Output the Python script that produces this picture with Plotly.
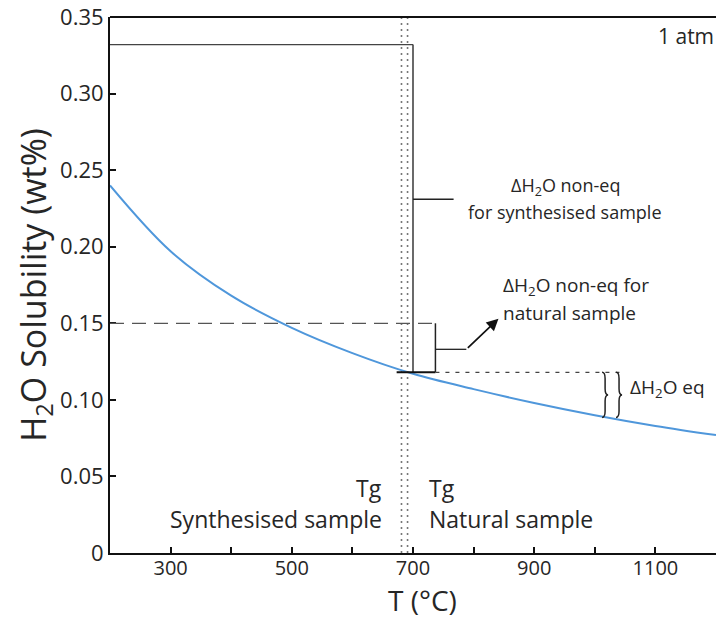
import plotly.graph_objects as go

# ---- data ----
temp_c = [200, 300, 400, 500, 600, 700, 800, 900, 1000, 1100, 1200]
solubility = [0.240, 0.197, 0.168, 0.147, 0.1305, 0.117, 0.107, 0.098, 0.090, 0.083, 0.077]

x_tick_vals = [300, 500, 700, 900, 1100]
x_tick_text = ["300", "500", "700", "900", "1100"]
y_tick_vals = [0, 0.05, 0.10, 0.15, 0.20, 0.25, 0.30, 0.35]
y_tick_text = ["0", "0.05", "0.10", "0.15", "0.20", "0.25", "0.30", "0.35"]

tg_synth = 681
tg_nat = 691
synth_water = 0.332
nat_water = 0.150
eq_water = 0.118
synth_bar_t = 700
nat_bar_t = 737
eq_end_t = 1041
eq_low = 0.0885
arrow_t = [788, 841]
arrow_w = [0.133, 0.153]

FONT = "Open Sans"
BLUE = "#4f97db"
TXT = "#262626"

fig = go.Figure()
fig.add_trace(go.Scatter(x=temp_c, y=solubility, mode="lines", line=dict(color=BLUE, width=2),
                         line_shape="spline", showlegend=False, hoverinfo="skip"))

shapes = []
# Tg dotted verticals
for t in (tg_synth, tg_nat):
    shapes.append(dict(type="line", x0=t, x1=t, y0=0, y1=0.35, xref="x", yref="y",
                       line=dict(color="#777", width=1.6, dash="2px,4px")))
# synthesised sample box
shapes.append(dict(type="line", x0=200, x1=synth_bar_t, y0=synth_water, y1=synth_water,
                   line=dict(color="#444", width=1.3)))
shapes.append(dict(type="line", x0=synth_bar_t, x1=synth_bar_t, y0=synth_water, y1=eq_water,
                   line=dict(color="#444", width=1.6)))
shapes.append(dict(type="line", x0=synth_bar_t, x1=767, y0=0.231, y1=0.231,
                   line=dict(color="#222", width=1.3)))
# natural sample dashed
shapes.append(dict(type="line", x0=200, x1=nat_bar_t, y0=nat_water, y1=nat_water,
                   line=dict(color="#555", width=1.3, dash="14px,8px")))
shapes.append(dict(type="line", x0=nat_bar_t, x1=nat_bar_t, y0=nat_water, y1=eq_water,
                   line=dict(color="#222", width=1.5)))
shapes.append(dict(type="line", x0=nat_bar_t, x1=arrow_t[0], y0=arrow_w[0], y1=arrow_w[0],
                   line=dict(color="#222", width=1.3)))
shapes.append(dict(type="line", x0=673, x1=nat_bar_t, y0=eq_water, y1=eq_water,
                   line=dict(color="#111", width=2)))
# equilibrium dashed
shapes.append(dict(type="line", x0=nat_bar_t, x1=eq_end_t, y0=eq_water, y1=eq_water,
                   line=dict(color="#444", width=1.2, dash="4px,6px")))


def brace_path(x0, ytop, ybot, w=5.0, c=0.004):
    ymid = (ytop + ybot) / 2
    return (f"M {x0},{ytop} Q {x0 + w},{ytop} {x0 + w},{ytop - c} "
            f"L {x0 + w},{ymid + c} Q {x0 + w},{ymid} {x0 + 2 * w},{ymid} "
            f"Q {x0 + w},{ymid} {x0 + w},{ymid - c} "
            f"L {x0 + w},{ybot + c} Q {x0 + w},{ybot} {x0},{ybot}")


for bx in (1012, 1035):
    shapes.append(dict(type="path", path=brace_path(bx, eq_water, eq_low), xref="x", yref="y",
                       line=dict(color="#222", width=1.5)))

# top frame line
shapes.append(dict(type="line", x0=0, x1=1, y0=1, y1=1, xref="paper", yref="paper",
                   line=dict(color="#111", width=2)))


def note(x, y, text, size, xanchor="left", xref="x"):
    return dict(x=x, y=y, xref=xref, yref="y", text=text, showarrow=False,
                xanchor=xanchor, yanchor="middle", font=dict(size=size, color=TXT, family=FONT))


annotations = [
    note(1, 0.3375, "1 atm", 21, "right", "paper"),
    note(951, 0.2395, "ΔH<sub>2</sub>O non-eq", 18, "center"),
    note(951, 0.2225, "for synthesised sample", 18, "center"),
    note(846, 0.1745, "ΔH<sub>2</sub>O non-eq for", 19),
    note(846, 0.1565, "natural sample", 19),
    note(1055, 0.108, "ΔH<sub>2</sub>O eq", 19),
    note(652, 0.0423, "Tg", 23, "right"),
    note(652, 0.0221, "Synthesised sample", 23, "right"),
    note(723, 0.0423, "Tg", 23),
    note(723, 0.0221, "Natural sample", 23),
    dict(x=arrow_t[1], y=arrow_w[1], ax=arrow_t[0], ay=arrow_w[0], xref="x", yref="y",
         axref="x", ayref="y", text="", showarrow=True, arrowhead=2, arrowsize=1.4,
         arrowwidth=1.7, arrowcolor="#111"),
    # x-axis title
    dict(x=0.516, y=0, xref="paper", yref="paper", yshift=-68, text="T (°C)", showarrow=False,
         xanchor="center", yanchor="bottom", font=dict(size=28, color=TXT, family=FONT)),
]

fig.update_layout(
    width=716, height=621,
    margin=dict(l=110, r=0, t=17, b=68),
    plot_bgcolor="white", paper_bgcolor="white",
    font=dict(family=FONT, color=TXT),
    shapes=shapes, annotations=annotations, showlegend=False,
    xaxis=dict(range=[200, 1200], tickvals=x_tick_vals, ticktext=x_tick_text,
               ticks="inside", ticklen=6, tickwidth=1.5, tickcolor="#111", ticklabelstandoff=-4,
               minor=dict(tick0=300, dtick=100, ticks="inside", ticklen=6, tickwidth=1.5, tickcolor="#111"),
               showline=True, linecolor="#111", linewidth=2, showgrid=False, zeroline=False,
               tickfont=dict(size=20, family=FONT, color=TXT)),
    yaxis=dict(range=[0, 0.35], tickvals=y_tick_vals, ticktext=y_tick_text,
               ticks="inside", ticklen=6, tickwidth=1.5, tickcolor="#111",
               showline=True, linecolor="#111", linewidth=2, showgrid=False, zeroline=False,
               tickfont=dict(size=22, family=FONT, color=TXT),
               title=dict(text="H<sub>2</sub>O Solubility (wt%)", font=dict(size=34, family=FONT, color=TXT),
                          standoff=2)),
)

fig.write_html("out.html")
